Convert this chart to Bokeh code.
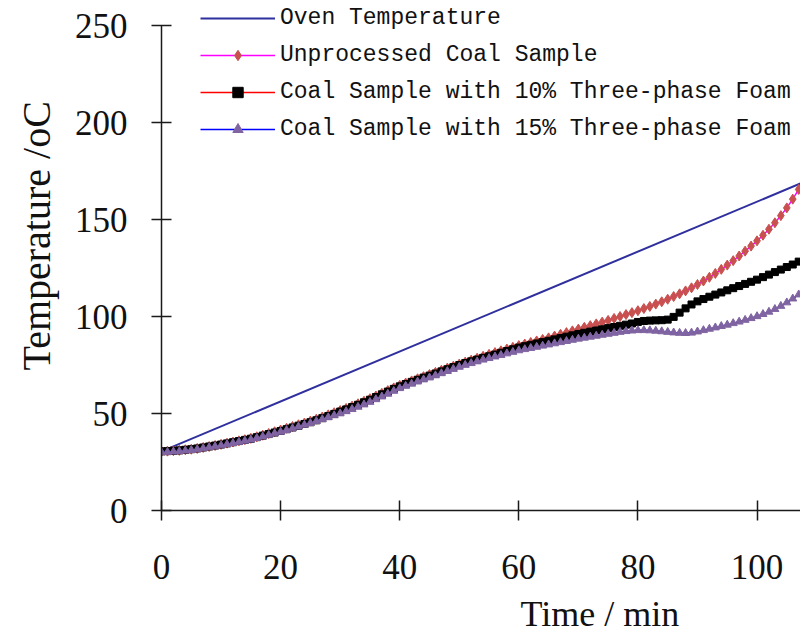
from bokeh.plotting import figure
from bokeh.models import Range1d, Legend, LegendItem, Title, FixedTicker, ColumnDataSource
from bokeh.embed import file_html
from bokeh.resources import INLINE

# ---------------- data ----------------
x_ticks = [0, 20, 40, 60, 80, 100]
y_ticks = [0, 50, 100, 150, 200, 250]

oven_time = [0, 108]
oven_temp = [30.5, 169.5]

time_min = list(range(0, 109))

unprocessed = [
    30.5, 30.6, 30.8, 31.0, 31.3, 31.6, 32.0, 32.5, 33.0, 33.5,
    34.1, 34.7, 35.3, 35.9, 36.5, 37.2, 38.0, 38.8, 39.7, 40.6,
    41.5, 42.4, 43.3, 44.2, 45.1, 46.1, 47.1, 48.2, 49.3, 50.4,
    51.5, 52.6, 53.8, 55.0, 56.3, 57.6, 59.0, 60.4, 61.8, 63.2,
    64.5, 65.7, 66.8, 67.9, 69.0, 70.1, 71.2, 72.3, 73.4, 74.4,
    75.5, 76.5, 77.5, 78.5, 79.5, 80.5, 81.4, 82.3, 83.2, 84.1,
    85.0, 85.8, 86.6, 87.4, 88.2, 89.0, 89.9, 90.8, 91.7, 92.6,
    93.5, 94.4, 95.3, 96.2, 97.1, 98.0, 99.0, 100.0, 101.0, 102.0,
    103.0, 104.1, 105.2, 106.4, 107.6, 108.9, 110.3, 111.7, 113.2, 114.8,
    116.5, 118.3, 120.2, 122.2, 124.3, 126.5, 128.8, 131.2, 133.7, 136.3,
    139.0, 141.9, 145.0, 148.3, 152.0, 156.0, 160.5, 165.5, 171.0,
]

foam10 = [
    30.5, 30.6, 30.8, 31.0, 31.3, 31.6, 32.0, 32.5, 33.0, 33.5,
    34.0, 34.6, 35.2, 35.8, 36.4, 37.0, 37.8, 38.6, 39.4, 40.2,
    41.0, 41.9, 42.8, 43.7, 44.6, 45.5, 46.5, 47.6, 48.7, 49.8,
    51.0, 52.1, 53.3, 54.5, 55.8, 57.1, 58.5, 59.9, 61.3, 62.7,
    64.0, 65.2, 66.3, 67.4, 68.5, 69.5, 70.6, 71.7, 72.8, 73.9,
    75.0, 76.0, 76.9, 77.8, 78.7, 79.5, 80.4, 81.3, 82.2, 83.1,
    84.0, 84.7, 85.4, 86.1, 86.8, 87.5, 88.2, 88.9, 89.6, 90.3,
    91.0, 91.6, 92.2, 92.8, 93.4, 94.0, 94.6, 95.2, 95.8, 96.4,
    97.2, 97.7, 97.9, 98.0, 98.1, 98.4, 99.8, 102.0, 104.2, 106.2,
    107.8, 109.0, 110.2, 111.3, 112.4, 113.5, 114.6, 115.7, 116.8, 117.9,
    119.0, 120.3, 121.6, 122.9, 124.2, 125.5, 126.8, 128.3, 129.8,
]

foam15 = [
    30.0, 30.1, 30.3, 30.5, 30.8, 31.1, 31.5, 32.0, 32.5, 33.0,
    33.5, 34.1, 34.7, 35.3, 35.9, 36.5, 37.3, 38.1, 38.9, 39.7,
    40.5, 41.4, 42.3, 43.2, 44.1, 45.0, 46.0, 47.0, 48.0, 49.0,
    50.0, 51.1, 52.2, 53.4, 54.6, 55.9, 57.3, 58.7, 60.1, 61.6,
    63.0, 64.2, 65.3, 66.4, 67.5, 68.5, 69.6, 70.7, 71.8, 72.9,
    74.0, 75.0, 75.9, 76.8, 77.7, 78.5, 79.3, 80.1, 80.9, 81.7,
    82.5, 83.1, 83.7, 84.3, 84.9, 85.5, 86.1, 86.7, 87.3, 87.9,
    88.5, 89.0, 89.5, 90.0, 90.5, 91.0, 91.5, 92.0, 92.4, 92.7,
    92.9, 92.9, 92.8, 92.6, 92.3, 92.0, 91.7, 91.5, 91.4, 91.6,
    92.2, 92.9, 93.6, 94.3, 95.0, 95.7, 96.5, 97.3, 98.2, 99.1,
    100.1, 101.2, 102.4, 103.8, 105.4, 107.2, 109.2, 111.3, 113.5,
]

labels = [
    "Oven Temperature",
    "Unprocessed Coal Sample",
    "Coal Sample with 10% Three-phase Foam",
    "Coal Sample with 15% Three-phase Foam",
]
x_title = "Time / min"
y_title = "Temperature /oC"

# ---------------- figure ----------------
p = figure(width=800, height=643, output_backend="svg", toolbar_location=None,
           x_range=Range1d(0, 107.3), y_range=Range1d(0, 262.9),
           min_border_left=161, min_border_right=0, min_border_top=0, min_border_bottom=133)
p.outline_line_color = None
p.grid.visible = False
p.background_fill_color = "white"

p.xaxis.ticker = FixedTicker(ticks=x_ticks)
p.yaxis.ticker = FixedTicker(ticks=y_ticks)
p.yaxis.bounds = (0, 250)
for ax in (p.xaxis[0], p.yaxis[0]):
    ax.axis_line_color = "#1a1a1a"
    ax.axis_line_width = 1.5
    ax.major_tick_line_color = "#1a1a1a"
    ax.major_tick_line_width = 1.5
    ax.major_tick_in = 10
    ax.major_tick_out = 10
    ax.minor_tick_line_color = None
    ax.major_label_text_font = "Liberation Serif"
    ax.major_label_text_font_size = "35px"
    ax.major_label_text_color = "#111111"
p.xaxis[0].major_label_standoff = 34
p.yaxis[0].major_label_standoff = 24

src = ColumnDataSource(dict(t=time_min, u=unprocessed, f10=foam10, f15=foam15))

r_oven = p.line(oven_time, oven_temp, line_color="#2f2f9e", line_width=2)

l_u = p.line("t", "u", source=src, line_color="#ff00ff", line_width=1.5)
s_u = p.scatter("t", "u", source=src, marker="diamond", size=10,
                fill_color="#c8504f", line_color="#c8504f")

l_10 = p.line("t", "f10", source=src, line_color="#ff0000", line_width=1.5)
s_10 = p.scatter("t", "f10", source=src, marker="square", size=7,
                 fill_color="black", line_color="black")

l_15 = p.line("t", "f15", source=src, line_color="#0000ff", line_width=1.5)
s_15 = p.scatter("t", "f15", source=src, marker="triangle", size=8,
                 fill_color="#8064a2", line_color="#8064a2")

legend = Legend(items=[
    LegendItem(label=labels[0], renderers=[r_oven]),
    LegendItem(label=labels[1], renderers=[l_u, s_u]),
    LegendItem(label=labels[2], renderers=[l_10, s_10]),
    LegendItem(label=labels[3], renderers=[l_15, s_15]),
], location=(39, 368), padding=0, margin=0, spacing=11,
    glyph_width=75, glyph_height=26, label_height=26, label_standoff=5,
    label_text_font="Liberation Mono", label_text_font_size="23px",
    label_text_color="#111111",
    border_line_color=None, background_fill_alpha=0)
p.add_layout(legend)

xt = Title(text=x_title, align="left", offset=359, text_font="Liberation Serif",
           text_font_size="36px", text_font_style="normal", text_color="#111111",
           standoff=20)
p.add_layout(xt, "below")
yt = Title(text=y_title, align="left", offset=140, vertical_align="middle",
           text_font="Liberation Serif", text_font_size="40px",
           text_font_style="normal", text_color="#111111", standoff=24)
p.add_layout(yt, "left")

open("out.html", "w").write(file_html(p, INLINE))
